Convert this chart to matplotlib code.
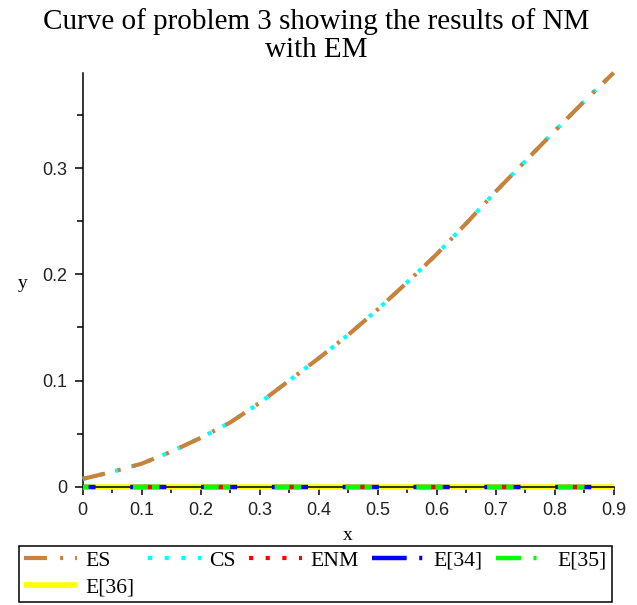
import matplotlib
matplotlib.use("Agg")
import matplotlib.pyplot as plt
from matplotlib.lines import Line2D
from matplotlib.ticker import MultipleLocator

# ---- data ----
x_vals = [0.0, 0.05, 0.1, 0.15, 0.2, 0.25, 0.3, 0.35, 0.4, 0.45,
          0.5, 0.55, 0.6, 0.65, 0.7, 0.75, 0.8, 0.85, 0.9]
es_vals = [0.0073, 0.014, 0.0217, 0.033, 0.046, 0.0605, 0.079, 0.100, 0.121, 0.143,
           0.167, 0.1925, 0.219, 0.248, 0.278, 0.3066, 0.335, 0.363, 0.390]
cs_vals = [0.0073, 0.014, 0.0217, 0.033, 0.046, 0.0605, 0.079, 0.100, 0.121, 0.143,
           0.167, 0.1925, 0.219, 0.248, 0.278, 0.3066, 0.335, 0.363, 0.390]
x_err = [0.0, 0.3, 0.6, 0.9]
enm_vals = [0.0, 0.0, 0.0, 0.0]
e34_vals = [0.0, 0.0, 0.0, 0.0]
e35_vals = [0.0, 0.0, 0.0, 0.0]
e36_vals = [0.0, 0.0, 0.0, 0.0]
series_names = ["ES", "CS", "ENM", "E[34]", "E[35]", "E[36]"]
x_ticks = [0, 0.1, 0.2, 0.3, 0.4, 0.5, 0.6, 0.7, 0.8, 0.9]
x_tick_labels = ["0", "0.1", "0.2", "0.3", "0.4", "0.5", "0.6", "0.7", "0.8", "0.9"]
y_ticks = [0, 0.1, 0.2, 0.3]
y_tick_labels = ["0", "0.1", "0.2", "0.3"]

plt.rcParams['lines.scale_dashes'] = False
serif = ['Liberation Serif', 'DejaVu Serif']
sans = ['Liberation Sans', 'DejaVu Sans']

C_ES, C_CS, C_ENM, C_34, C_35, C_36 = '#C8823C', '#00FFFF', '#FF0000', '#0000FF', '#00FF00', '#FFFF00'
LS_ES = (0, (16.5, 9.5, 2.2, 8.6))
LS_DOT = (0, (3, 9))

fig = plt.figure(figsize=(6.37, 6.05), dpi=100)
ax = fig.add_axes([82.7/637, 1-486.7/605, 531/637, 414/605])

ax.plot(x_err, e36_vals, color=C_36, lw=4.0, ls='-', zorder=2,
        solid_capstyle='butt', clip_on=False)
ax.plot(x_err, e34_vals, color=C_34, lw=3.2, ls=(17, (26, 25)), zorder=3, clip_on=False)
ax.plot(x_err, e35_vals, color=C_35, lw=3.2, ls=(15, (19, 32)), zorder=4, clip_on=False)
ax.plot(x_err, enm_vals, color=C_ENM, lw=3.0, ls=(4.3, (3, 48)), zorder=5, clip_on=False)
ax.plot(x_vals, cs_vals, color=C_CS, lw=3.0, ls=LS_DOT, zorder=6, clip_on=False)
ax.plot(x_vals, es_vals, color=C_ES, lw=3.0, ls=LS_ES, zorder=7, clip_on=False)

ax.set_xlim(0, 0.9)
ax.set_ylim(0, 0.39)
for s in ['top', 'right']:
    ax.spines[s].set_visible(False)
for s in ['left', 'bottom']:
    ax.spines[s].set_linewidth(1.1)
    ax.spines[s].set_zorder(2.5)

ax.set_xticks(x_ticks)
ax.set_xticklabels(x_tick_labels)
ax.set_yticks(y_ticks)
ax.set_yticklabels(y_tick_labels)
ax.xaxis.set_minor_locator(MultipleLocator(0.05))
ax.yaxis.set_minor_locator(MultipleLocator(0.05))
ax.tick_params(which='major', length=6, width=1.1, direction='out', pad=5)
ax.tick_params(which='minor', length=4, width=1.1, direction='out')
for lab in ax.get_xticklabels() + ax.get_yticklabels():
    lab.set_fontfamily(sans)
    lab.set_fontsize(13)
    lab.set_color('#222222')

ax.set_xlabel('x', fontfamily=serif, fontsize=14, va='center')
ax.set_ylabel('y', fontfamily=serif, fontsize=14, rotation=0, va='center', ha='center')
ax.xaxis.set_label_coords(0.5, -0.119)
ax.yaxis.set_label_coords(-0.1124, 0.492)

fig.text(0.497, 1 - 8/605, 'Curve of problem 3 showing the results of NM\nwith EM',
         ha='center', va='top', fontfamily=serif, fontsize=21, linespacing=1.08,
         multialignment='center')

# legend keys (same colours, legend-style dash patterns)
h_es = Line2D([], [], color=C_ES, lw=3.0, ls=LS_ES)
h_cs = Line2D([], [], color=C_CS, lw=3.0, ls=LS_DOT)
h_enm = Line2D([], [], color=C_ENM, lw=3.0, ls=LS_DOT)
h_34 = Line2D([], [], color=C_34, lw=3.2, ls=(0, (25, 9, 2.2, 9)))
h_35 = Line2D([], [], color=C_35, lw=3.2, ls=(0, (18, 9, 2.2, 9)))
h_36 = Line2D([], [], color=C_36, lw=4.0, ls='-', solid_capstyle='butt')

handles = [h_es, h_36, h_cs, h_enm, h_34, h_35]
labels = [series_names[0], series_names[5], series_names[1], series_names[2],
          series_names[3], series_names[4]]
leg = fig.legend(handles, labels, loc='lower left', bbox_to_anchor=(19/637, 3/605),
                 ncol=5, prop={'family': serif, 'size': 15.6}, frameon=True, fancybox=False,
                 edgecolor='black', framealpha=1, handlelength=2.45, handletextpad=0.4,
                 columnspacing=0.6, borderpad=0.22, labelspacing=0.3, borderaxespad=0)
leg.get_frame().set_linewidth(1.1)

fig.savefig('out.png', dpi=100)
